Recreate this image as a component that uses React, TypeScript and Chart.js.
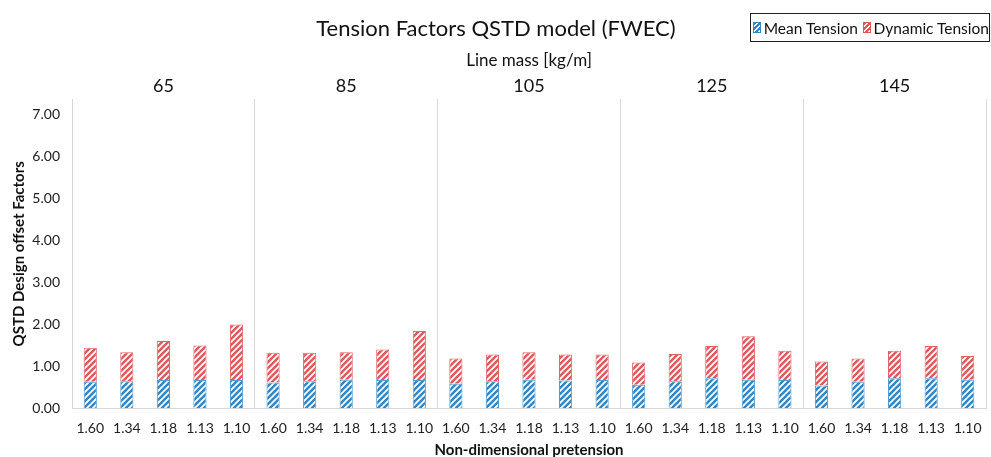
import { useEffect, useRef } from 'react';
import { Chart, registerables } from 'chart.js';

Chart.register(...registerables);

const groups = ['65', '85', '105', '125', '145'];
const pretensions = ['1.60', '1.34', '1.18', '1.13', '1.10'];
const yTickValues = [0, 1, 2, 3, 4, 5, 6, 7];
const meanTension = [
  0.63, 0.64, 0.67, 0.67, 0.67,
  0.61, 0.64, 0.68, 0.67, 0.67,
  0.58, 0.64, 0.68, 0.66, 0.67,
  0.56, 0.64, 0.71, 0.68, 0.67,
  0.54, 0.63, 0.71, 0.71, 0.68,
];
const dynamicTension = [
  0.81, 0.69, 0.93, 0.82, 1.32,
  0.71, 0.68, 0.65, 0.73, 1.17,
  0.60, 0.64, 0.65, 0.62, 0.61,
  0.53, 0.65, 0.77, 1.03, 0.70,
  0.57, 0.55, 0.66, 0.77, 0.56,
];

const FONT = 'Lato, "Noto Sans", sans-serif';
const BLUE = '#2F86C6';
const BLUE_BORDER = '#4F9BD2';
const RED = '#E0585A';
const RED_BORDER = '#E06466';

function makePattern(color: string): CanvasPattern | string {
  const c = document.createElement('canvas');
  c.width = 6;
  c.height = 6;
  const ctx = c.getContext('2d');
  if (!ctx) return color;
  ctx.fillStyle = '#ffffff';
  ctx.fillRect(0, 0, 6, 6);
  ctx.strokeStyle = color;
  ctx.lineWidth = 2.4;
  ctx.lineCap = 'square';
  for (const off of [-6, 0, 6]) {
    ctx.beginPath();
    ctx.moveTo(off - 1, 7);
    ctx.lineTo(off + 7, -1);
    ctx.stroke();
  }
  return ctx.createPattern(c, 'repeat') || color;
}

function swatch(color: string) {
  return {
    display: 'inline-block',
    width: 11,
    height: 11,
    border: `1px solid ${color}`,
    boxSizing: 'border-box' as const,
    background: `repeating-linear-gradient(135deg, ${color} 0px, ${color} 2px, #fff 2px, #fff 3.5px)`,
    marginRight: 3,
    verticalAlign: 'middle',
  };
}

export default function App() {
  const ref = useRef<HTMLCanvasElement>(null);

  useEffect(() => {
    if (!ref.current) return;
    const labels = groups.flatMap(() => pretensions);
    const chart = new Chart(ref.current, {
      type: 'bar',
      data: {
        labels,
        datasets: [
          {
            label: 'Mean Tension',
            data: meanTension,
            backgroundColor: makePattern(BLUE) as any,
            borderColor: BLUE_BORDER,
            borderWidth: 1,
            barPercentage: 0.36,
            categoryPercentage: 1,
          },
          {
            label: 'Dynamic Tension',
            data: dynamicTension,
            backgroundColor: makePattern(RED) as any,
            borderColor: RED_BORDER,
            borderWidth: 1,
            barPercentage: 0.36,
            categoryPercentage: 1,
          },
        ],
      },
      options: {
        responsive: true,
        maintainAspectRatio: false,
        animation: false,
        layout: { padding: { left: 6, right: 5, top: 0, bottom: -2 } },
        plugins: {
          legend: { display: false },
          tooltip: { enabled: false },
          title: {
            display: true,
            text: 'Tension Factors QSTD model (FWEC)',
            font: { family: FONT, size: 22, weight: 'normal' },
            color: '#111',
            padding: { top: 16, bottom: 8 },
          },
        },
        scales: {
          x: {
            stacked: true,
            grid: { display: false },
            border: { color: '#d9d9d9' },
            ticks: {
              font: { family: FONT, size: 14 },
              color: '#222',
              maxRotation: 0,
              autoSkip: false,
              padding: 4,
            },
            title: {
              display: true,
              text: 'Non-dimensional pretension',
              font: { family: FONT, size: 15, weight: 'bold' },
              color: '#111',
              padding: { top: 0, bottom: 0 },
            },
          },
          x2: {
            type: 'category',
            labels: groups,
            position: 'top',
            offset: true,
            grid: { offset: true, color: '#d9d9d9', drawTicks: false },
            border: { display: false },
            ticks: { font: { family: FONT, size: 18 }, color: '#111', padding: 2 },
            title: {
              display: true,
              text: 'Line mass [kg/m]',
              font: { family: FONT, size: 17 },
              color: '#111',
              padding: { top: 0, bottom: 3 },
            },
          },
          y: {
            stacked: true,
            min: 0,
            max: 7.35,
            afterBuildTicks: (s: any) => {
              s.ticks = yTickValues.map((v) => ({ value: v }));
            },
            afterFit: (s: any) => {
              s.width = 66;
            },
            ticks: {
              stepSize: 1,
              callback: (v: any) => Number(v).toFixed(2),
              font: { family: FONT, size: 14 },
              color: '#222',
              padding: 4,
            },
            grid: { display: false },
            border: { color: '#d9d9d9' },
            title: {
              display: true,
              text: 'QSTD Design offset Factors',
              font: { family: FONT, size: 15, weight: 'bold' },
              color: '#111',
              padding: { top: 4, bottom: 0 },
            },
          },
        },
      } as any,
    });
    return () => chart.destroy();
  }, []);

  return (
    <div style={{ position: 'fixed', left: 0, top: 0, width: 991, height: 457, background: '#fff' }}>
      <canvas ref={ref} />
      <div
        style={{
          position: 'absolute',
          left: 750,
          top: 13,
          width: 240,
          height: 29,
          border: '1px solid #222',
          boxSizing: 'border-box',
          fontFamily: FONT,
          fontSize: 15.5,
          color: '#111',
          display: 'flex',
          alignItems: 'center',
          paddingLeft: 2,
          whiteSpace: 'nowrap',
        }}
      >
        <span style={swatch(BLUE)} />
        <span style={{ marginRight: 5 }}>Mean Tension</span>
        <span style={swatch(RED)} />
        <span>Dynamic Tension</span>
      </div>
    </div>
  );
}
